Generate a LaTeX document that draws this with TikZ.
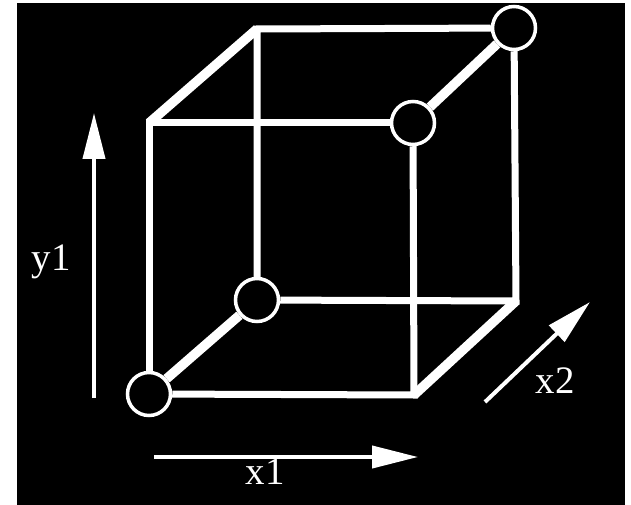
\documentclass[tikz,border=0pt]{standalone}
\usepackage{fontspec}
\setmainfont{Liberation Serif}
\usetikzlibrary{arrows.meta}

\begin{document}
\begin{tikzpicture}[
    x=1bp, y=-1bp,
    % Styles
    cubeedge/.style={draw=white, line width=7bp, line join=miter},
    depthedge/.style={draw=white, line width=9.5bp, line join=miter},
    vertex/.style={circle, draw=white, fill=black, line width=3.5bp, minimum size=43bp, inner sep=0pt},
    axisarrow/.style={draw=white, line width=4bp, -{Triangle[length=46bp, width=22bp]}},
    axislabel/.style={text=white, font=\fontsize{39}{46}\selectfont, anchor=base, inner sep=0pt}
]

    % ==================== BACKGROUND ====================
    \useasboundingbox (0,0) rectangle (631,505);
    \fill[white] (0,0) rectangle (631,505);
    \fill[black] (17,3) rectangle (625,505);

    % ==================== CUBE CORNERS ====================
    \coordinate (ftl) at (149,123);
    \coordinate (fbr) at (414,395);
    \coordinate (btl) at (257,29);
    \coordinate (bbr) at (516,301);

    % Corners with a circle
    \node [vertex] (fbl) at (149,394) {};
    \node [vertex] (ftr) at (413,123) {};
    \node [vertex] (bbl) at (257,300) {};
    \node [vertex] (btr) at (514,28) {};

    % ==================== BACK FACE ====================
    \draw [cubeedge] (bbl) -- (btl) -- (btr);
    \draw [cubeedge] (btr) -- (bbr) -- (bbl);

    % ==================== FRONT FACE ====================
    \draw [cubeedge] (fbl) -- (fbr) -- (ftr);
    \draw [cubeedge] (ftr) -- (ftl) -- (fbl);

    % Edges in depth
    \draw [depthedge] (fbl) -- (bbl);
    \draw [depthedge] (ftl) -- (btl);
    \draw [depthedge] (ftr) -- (btr);
    \draw [depthedge] (fbr) -- (bbr);

    % ==================== AXES ====================
    \coordinate (y1from) at (94,398);
    \coordinate (y1to) at (94,113);
    \coordinate (x1from) at (154,457);
    \coordinate (x1to) at (418,457);
    \coordinate (x2from) at (485,402);
    \coordinate (x2to) at (590,302);

    \draw [axisarrow] (y1from) -- (y1to);
    \draw [axisarrow] (x1from) -- (x1to);
    \draw [axisarrow] (x2from) -- (x2to);

    \node [axislabel] (y1) at (51,270) {y1};
    \node [axislabel] (x1) at (265,484) {x1};
    \node [axislabel] (x2) at (555,393) {x2};

\end{tikzpicture}
\end{document}
